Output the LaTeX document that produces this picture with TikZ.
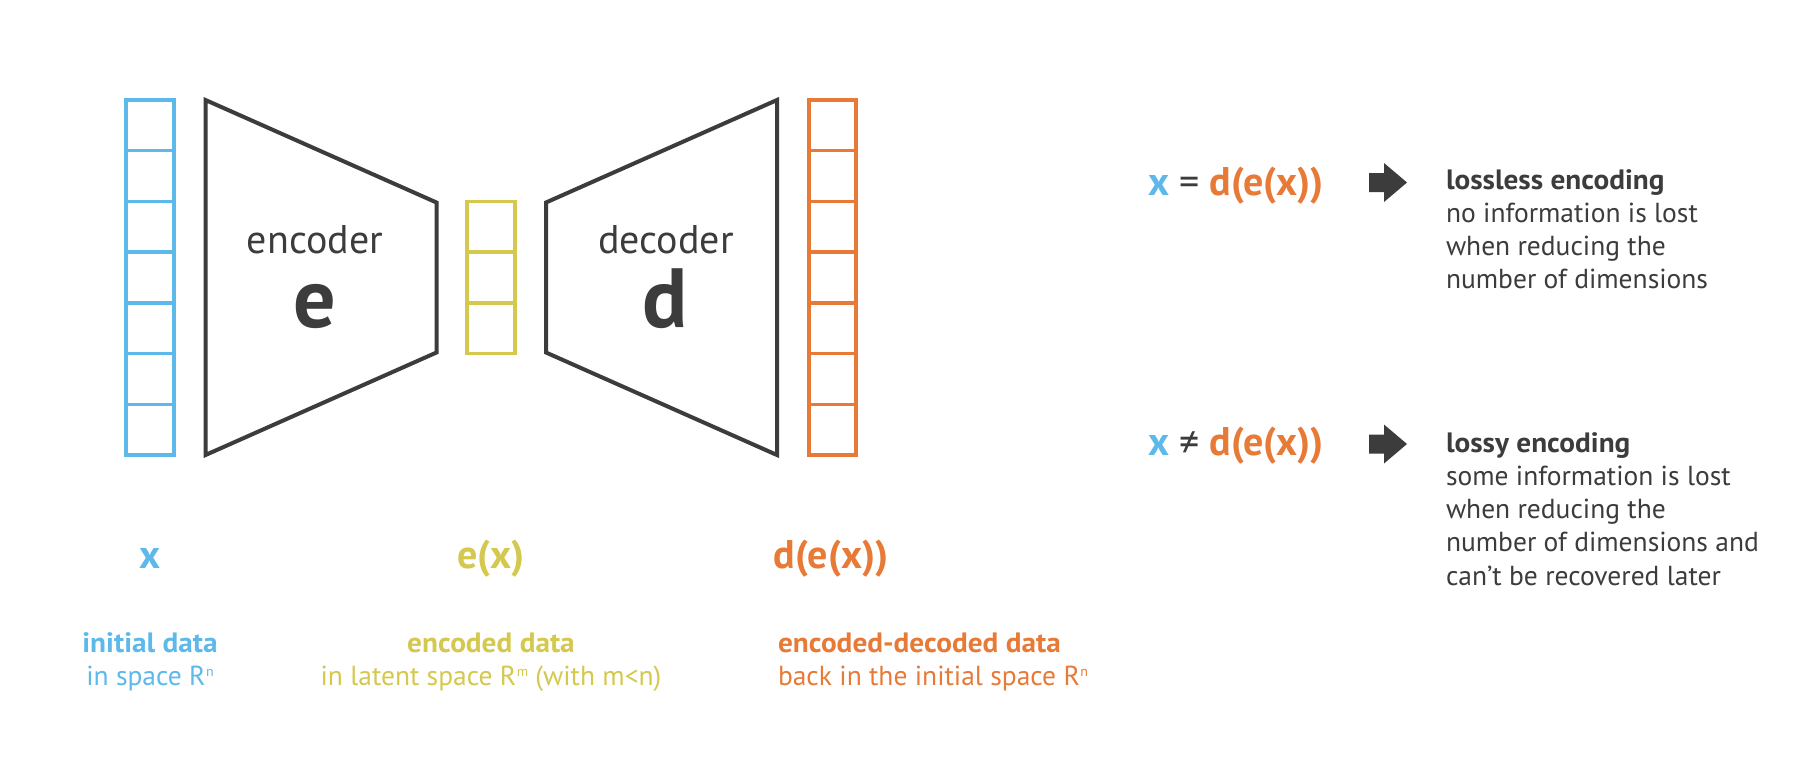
\documentclass[tikz,border=0pt]{standalone}
\usepackage{fontspec}
\setmainfont{PT Sans}
\newfontfamily\sbfam{PT Sans}[FakeStretch=1.045]
\definecolor{cblue}{RGB}{93,185,233}
\definecolor{cyel}{RGB}{212,200,78}
\definecolor{corg}{RGB}{232,122,55}
\definecolor{cdark}{RGB}{60,60,60}
\newcommand\bigtxt{\fontsize{40}{48}\selectfont}
\newcommand\hugetxt{\fontsize{84}{96}\selectfont\bfseries}
\newcommand\smalltxt{\fontsize{27.5}{33.3}\selectfont}
\newcommand\smallbf{\fontsize{28}{33.3}\sbfam\bfseries}
\newcommand\supr[1]{\kern0.5pt\raisebox{8.5pt}{\fontsize{14}{14}\selectfont #1}}
\begin{document}
\begin{tikzpicture}[x=1pt,y=-1pt,
  every node/.style={inner sep=0pt,outer sep=0pt},
  colbox/.style={line width=3.5pt},
  trap/.style={draw=cdark,line width=4pt,line join=miter},
  arrowshape/.style={fill=cdark},
  lbl/.style={anchor=base},
  lblw/.style={anchor=base west}]
\fill[white] (0,0) rectangle (1815,764);
\useasboundingbox (0,0) rectangle (1815,764);
% blue column
\draw[colbox,draw=cblue] (126,100) rectangle (174,455);
\foreach \k in {1,...,6} \draw[colbox,draw=cblue] (126,{100+50.714*\k}) -- (174,{100+50.714*\k});
% yellow column
\draw[colbox,draw=cyel] (467,201.43) rectangle (515,353.57);
\foreach \k in {1,2} \draw[colbox,draw=cyel] (467,{201.43+50.714*\k}) -- (515,{201.43+50.714*\k});
% orange column
\draw[colbox,draw=corg] (809,100) rectangle (856,455);
\foreach \k in {1,...,6} \draw[colbox,draw=corg] (809,{100+50.714*\k}) -- (856,{100+50.714*\k});
% encoder / decoder
\draw[trap] (205.5,100) -- (436.5,202.5) -- (436.5,352.5) -- (205.5,455) -- cycle;
\draw[trap] (546,202.5) -- (777,100) -- (777,455) -- (546,352.5) -- cycle;
\node[lbl,text=cdark,font=\bigtxt] (enc) at (315,253) {encoder};
\node[lbl,text=cdark,font=\hugetxt] (e) at (315,327) {e};
\node[lbl,text=cdark,font=\bigtxt] (dec) at (666,253) {decoder};
\node[lbl,text=cdark,font=\hugetxt] (d) at (665,327) {d};
% bottom labels
\node[lbl,text=cblue,font=\bigtxt\bfseries] (xl) at (150,568) {x};
\node[lbl,text=cyel,font=\bigtxt\bfseries] (exl) at (491,568) {e(x)};
\node[lbl,text=corg,font=\bigtxt\bfseries] (dexl) at (831,568) {d(e(x))};
\node[lbl,text=cblue,font=\smallbf] (t1a) at (150,652) {initial data};
\node[lbl,text=cblue,font=\smalltxt] (t1b) at (150,685) {in space R\supr{n}};
\node[lbl,text=cyel,font=\smallbf] (t2a) at (491,652) {encoded data};
\node[lbl,text=cyel,font=\smalltxt] (t2b) at (491,685) {in latent space R\supr{m} (with m<n)};
\node[lblw,text=corg,font=\smallbf] (t3a) at (778,652) {encoded-decoded data};
\node[lblw,text=corg,font=\smalltxt] (t3b) at (778,685) {back in the initial space R\supr{n}};
% right side
\node[lblw,font=\bigtxt\bfseries] (f1) at (1148,195) {\textcolor{cblue}{x} \textcolor{cdark}{\mdseries =} \textcolor{corg}{d(e(x))}};
\node[lblw,font=\bigtxt\bfseries] (f2) at (1148,455) {\textcolor{cblue}{x} \textcolor{cdark}{\mdseries ≠} \textcolor{corg}{d(e(x))}};
\fill[arrowshape] (1369,173) -- (1384,173) -- (1384,163) -- (1407,182.5) -- (1384,202) -- (1384,192) -- (1369,192) -- cycle;
\fill[arrowshape] (1369,434.5) -- (1384,434.5) -- (1384,424.5) -- (1407,444) -- (1384,463.5) -- (1384,453.5) -- (1369,453.5) -- cycle;
\node[lblw,text=cdark,font=\smalltxt] (r1) at (1446,189) {\begin{tabular}[t]{@{}l@{}}{\smallbf lossless encoding}\\no information is lost\\when reducing the\\number of dimensions\end{tabular}};
\node[lblw,text=cdark,font=\smalltxt] (r2) at (1446,452) {\begin{tabular}[t]{@{}l@{}}{\smallbf lossy encoding}\\some information is lost\\when reducing the\\number of dimensions and\\can’t be recovered later\end{tabular}};
\end{tikzpicture}
\end{document}
